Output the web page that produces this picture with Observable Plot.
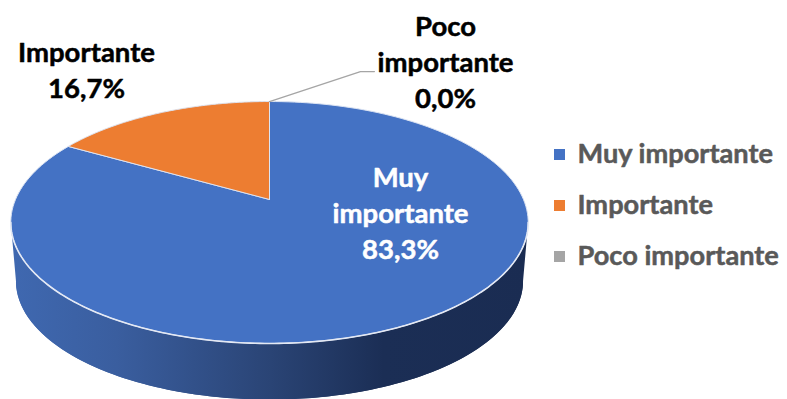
<!DOCTYPE html>
<html>
<head>
<meta charset="utf-8">
<script src="https://cdn.jsdelivr.net/npm/d3@7"></script>
<script src="https://cdn.jsdelivr.net/npm/@observablehq/plot@0.6"></script>
<style>
  html, body { margin: 0; padding: 0; background: #fff; }
  svg { display: block; }
</style>
</head>
<body>
<div id="chart"></div>
<script>
const categories = ["Muy importante", "Importante", "Poco importante"];
const shares = [83.3, 16.7, 0.0];
const shareLabels = ["83,3%", "16,7%", "0,0%"];
const colors = ["#4472C4", "#ED7D31", "#A5A5A5"];

// Perspective tilt of the disc, and offset/shrink of the lower rim
const tilt = 0.19, rimShrink = 0.98, rimDrop = 0.506;
const project = (theta, s = 1, drop = 0) => {
  const w = 1 + tilt * Math.cos(theta);
  return {x: s * Math.sin(theta) / w, y: s * Math.cos(theta) / w - drop};
};
const arcs = d3.pie().sort(null).value(d => d)(shares);
const steps = (a, b) => d3.range(0, 181).map(i => a + (b - a) * i / 180);

const slices = arcs.filter(a => a.value > 0).flatMap(a => {
  const i = a.index;
  return [{x: 0, y: 0, i}, ...steps(a.startAngle, a.endAngle).map(t => ({...project(t), i})), {x: 0, y: 0, i}];
});
const silhouette = Math.acos(-tilt);
const rimPts = steps(0, 2 * Math.PI).map(t => project(t, rimShrink, rimDrop));
const wallPts = [
  ...steps(silhouette, 2 * Math.PI - silhouette).map(t => project(t, rimShrink, rimDrop)),
  ...steps(2 * Math.PI - silhouette, silhouette).map(t => project(t))
];
const frontEdge = steps(silhouette, 2 * Math.PI - silhouette).map(t => project(t));
const zeroEdge = project(arcs[2].startAngle);
const leader = [zeroEdge, {x: zeroEdge.x + 0.358, y: zeroEdge.y + 0.257}, {x: zeroEdge.x + 0.413, y: zeroEdge.y + 0.257}];

const gradient = () => {
  const defs = d3.create("svg:defs");
  const g = defs.append("linearGradient").attr("id", "wall")
    .attr("gradientUnits", "userSpaceOnUse")
    .attr("x1", 13).attr("x2", 527).attr("y1", 0).attr("y2", 0);
  [[0, "#3F68B0"], [0.2, "#3A5E9F"], [0.5, "#2A4475"], [0.72, "#1B2E55"], [1, "#1A2C52"]]
    .forEach(([o, c]) => g.append("stop").attr("offset", o).attr("stop-color", c));
  return defs.node();
};

const font = "Lato, 'Open Sans', sans-serif";
const label = (text, fill, dx, dy) => Plot.text([text], {
  text: d => d, frameAnchor: "top-left", dx, dy, fill, stroke: fill, strokeWidth: 0.5,
  fontWeight: 700, fontSize: 27.5,
  textAnchor: "middle", lineAnchor: "middle", lineHeight: 1.31, fontFamily: font
});
const legend = categories.flatMap((c, i) => [
  Plot.dot([c], {frameAnchor: "top-left", dx: 559, dy: 154 + i * 51, symbol: "square", r: 6.2, fill: colors[i]}),
  Plot.text([c], {text: d => d, frameAnchor: "top-left", dx: 577, dy: 154 + i * 51, textAnchor: "start",
    lineAnchor: "middle", fill: "#595959", stroke: "#595959", strokeWidth: 0.5,
    fontWeight: 700, fontSize: 27.2, fontFamily: font})
]);

const plot = Plot.plot({
  width: 787, height: 399,
  margin: 0,
  x: {axis: null, type: "linear", domain: [-269 / 254, 518 / 254], range: [0, 787]},
  y: {axis: null, type: "linear", domain: [199 / 116.6, -200 / 116.6], range: [0, 399]},
  marks: [
    gradient,
    Plot.line(rimPts, {x: "x", y: "y", fill: "url(#wall)", stroke: "none"}),
    Plot.line(wallPts, {x: "x", y: "y", fill: "url(#wall)", stroke: "none"}),
    Plot.line(slices, {x: "x", y: "y", z: "i", fill: d => colors[d.i], stroke: "#DCE4F3", strokeWidth: 1}),
    Plot.line(frontEdge, {x: "x", y: "y", stroke: "#E4E9F4", strokeWidth: 1.6}),
    Plot.line(leader, {x: "x", y: "y", stroke: "#A5A5A5", strokeWidth: 1.3}),
    label(`Poco\nimportante\n${shareLabels[2]}`, "#000", 445, 60),
    label(`${categories[1]}\n${shareLabels[1]}`, "#000", 86, 68),
    label(`Muy\nimportante\n${shareLabels[0]}`, "#fff", 400, 211),
    ...legend
  ]
});
document.getElementById("chart").append(plot);
</script>
</body>
</html>
